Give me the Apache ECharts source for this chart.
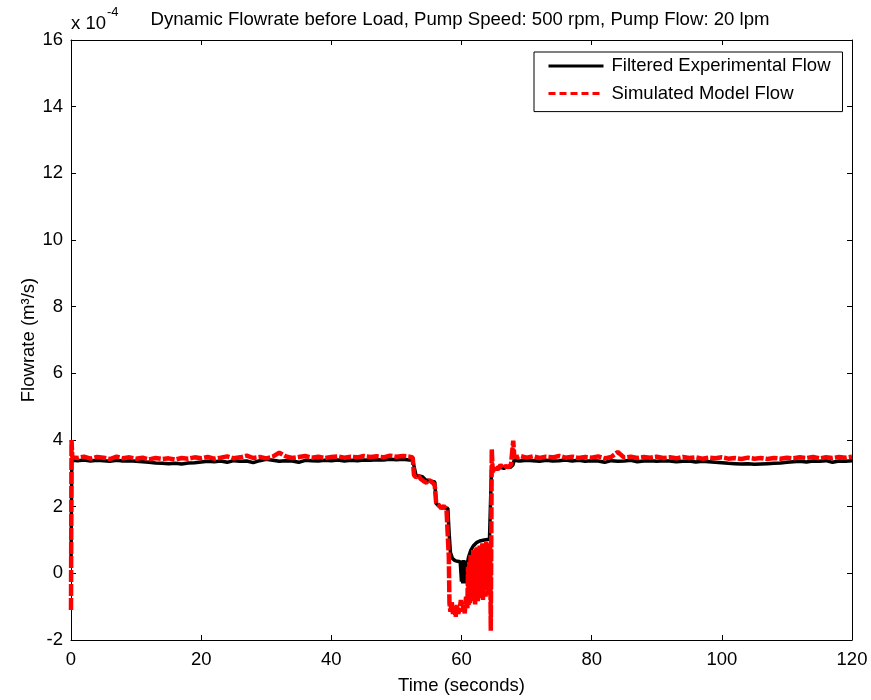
<!DOCTYPE html>
<html>
<head>
<meta charset="utf-8">
<title>Dynamic Flowrate before Load</title>
<script src="https://cdn.jsdelivr.net/npm/echarts@6/dist/echarts.min.js"></script>
<style>
  html, body { margin: 0; padding: 0; background: #fff; }
  #chart { width: 871px; height: 700px; }
</style>
</head>
<body>
<div id="chart"></div>
<script>
// Flow values are in units of 1e-4 m^3/s (the axis carries the "x 10^-4" multiplier).

// Steady running before the load event, sampled once per second
const earlyTime = [1, 2, 3, 4, 5, 6, 7, 8, 9, 10, 11, 12, 13, 14, 15, 16, 17, 18, 19, 20,
  21, 22, 23, 24, 25, 26, 27, 28, 29, 30, 31, 32, 33, 34, 35, 36, 37, 38, 39, 40,
  41, 42, 43, 44, 45, 46, 47, 48, 49, 50, 51, 52];
const expEarly = [3.38, 3.40, 3.37, 3.39, 3.38, 3.36, 3.39, 3.37, 3.38, 3.36, 3.35, 3.33, 3.31, 3.30, 3.29, 3.30, 3.28, 3.31, 3.32, 3.34,
  3.36, 3.35, 3.37, 3.33, 3.38, 3.36, 3.37, 3.32, 3.38, 3.42, 3.39, 3.36, 3.38, 3.37, 3.33, 3.39, 3.38, 3.37, 3.39, 3.38,
  3.40, 3.37, 3.39, 3.38, 3.40, 3.39, 3.41, 3.40, 3.42, 3.41, 3.42, 3.40];
const simEarly = [3.46, 3.50, 3.44, 3.49, 3.47, 3.43, 3.50, 3.45, 3.48, 3.44, 3.47, 3.42, 3.46, 3.43, 3.45, 3.41, 3.46, 3.44, 3.48, 3.45,
  3.49, 3.44, 3.47, 3.51, 3.45, 3.48, 3.53, 3.46, 3.49, 3.45, 3.50, 3.62, 3.51, 3.46, 3.49, 3.52, 3.47, 3.50, 3.46, 3.49,
  3.51, 3.47, 3.50, 3.48, 3.52, 3.49, 3.51, 3.48, 3.53, 3.50, 3.52, 3.50];

// Steady running after the load event
const lateTime = [69, 70, 71, 72, 73, 74, 75, 76, 77, 78, 79, 80, 81, 82, 83, 84, 85, 86, 87, 88,
  89, 90, 91, 92, 93, 94, 95, 96, 97, 98, 99, 100, 101, 102, 103, 104, 105, 106, 107, 108,
  109, 110, 111, 112, 113, 114, 115, 116, 117, 118, 119, 120];
const expLate = [3.37, 3.39, 3.38, 3.36, 3.39, 3.37, 3.38, 3.40, 3.37, 3.39, 3.36, 3.38, 3.37, 3.33, 3.38, 3.36, 3.37, 3.39, 3.35, 3.37,
  3.38, 3.36, 3.38, 3.37, 3.35, 3.36, 3.37, 3.34, 3.36, 3.35, 3.33, 3.32, 3.30, 3.29, 3.28, 3.29, 3.27, 3.28, 3.29, 3.30,
  3.31, 3.33, 3.35, 3.36, 3.34, 3.37, 3.36, 3.38, 3.33, 3.37, 3.36, 3.38];
const simLate = [3.52, 3.47, 3.51, 3.46, 3.50, 3.48, 3.52, 3.47, 3.50, 3.46, 3.49, 3.47, 3.51, 3.45, 3.49, 3.64, 3.47, 3.50, 3.46, 3.49,
  3.47, 3.50, 3.46, 3.48, 3.45, 3.49, 3.46, 3.48, 3.44, 3.47, 3.45, 3.48, 3.44, 3.46, 3.43, 3.47, 3.44, 3.46, 3.43, 3.46,
  3.44, 3.47, 3.45, 3.48, 3.46, 3.49, 3.45, 3.48, 3.46, 3.49, 3.47, 3.50];

// Start-up transient at t = 0
const expStartTime = [0, 0.12];
const expStart = [0.20, 3.40];
const simStartTime = [0, 0.08, 0.2];
const simStart = [-1.10, 4.00, 3.48];

// Load event: filtered experimental flow
const expDipTime = [52.5, 52.8, 53.0, 53.5, 54.0, 54.5, 55.0, 55.5, 55.9, 56.1, 56.5, 57.0, 57.5, 57.9,
  58.1, 58.3, 58.6, 59.0, 59.4, 59.8, 59.9, 60.0, 60.1, 60.2, 60.3, 60.4, 60.5, 60.6, 60.7, 60.8, 60.9,
  61.1, 61.4, 61.8, 62.3, 62.8, 63.5, 64.3, 64.5, 64.6, 65.0, 65.5, 66.0, 66.5, 67.0, 67.5, 67.9, 68.1, 68.5];
const expDip = [3.40, 3.35, 2.95, 2.92, 2.90, 2.80, 2.78, 2.76, 2.74, 2.10, 2.02, 1.98, 1.96, 1.95,
  1.20, 0.62, 0.45, 0.38, 0.36, 0.35, 0.40, -0.25, 0.38, -0.30, 0.40, -0.28, 0.35, -0.30, 0.38, -0.20, 0.30,
  0.50, 0.68, 0.82, 0.92, 0.97, 1.00, 1.02, 1.05, 3.10, 3.15, 3.12, 3.18, 3.15, 3.20, 3.18, 3.25, 3.40, 3.38];

// Load event: simulated model flow
const simDipTime = [52.5, 52.7, 53.0, 53.4, 53.8, 54.2, 54.6, 55.0, 55.3, 55.7, 55.9, 56.1, 56.5, 56.9, 57.3, 57.7, 57.95,
  58.05, 58.15, 58.3, 58.5, 58.7, 58.9, 59.1, 59.3, 59.5, 59.7, 59.9, 60.1, 60.3, 60.5, 60.7, 60.9,
  61.0, 61.1, 61.2, 61.3, 61.4, 61.5, 61.6, 61.7, 61.8, 61.9, 62.0, 62.1, 62.2, 62.3, 62.4, 62.5, 62.6, 62.7,
  62.8, 62.9, 63.0, 63.1, 63.2, 63.3, 63.4, 63.5, 63.6, 63.7, 63.8, 63.9, 64.0, 64.1, 64.2, 64.3, 64.4,
  64.5, 64.65, 64.8, 65.2, 65.6, 66.0, 66.4, 66.8, 67.2, 67.6, 67.85, 67.95, 68.1, 68.5];
const simDip = [3.48, 2.95, 2.88, 2.92, 2.82, 2.76, 2.72, 2.80, 2.74, 2.70, 2.62, 2.12, 2.05, 1.95, 2.02, 1.90, 1.85,
  0.50, -0.90, -1.15, -0.85, -1.25, -1.05, -1.30, -0.95, -1.20, -1.10, -0.80, -1.15, -0.95, -1.20, -0.70, -1.05,
  0.20, -0.95, 0.35, -0.90, 0.55, -0.85, 0.45, -0.80, 0.70, -0.75, 0.60, -0.95, 0.75, -0.70, 0.80, -0.85, 0.65, -0.60,
  0.85, -0.75, 0.80, -0.55, 0.90, -0.80, 0.85, -0.50, 0.90, -0.70, 0.95, -0.45, 0.85, -0.65, 0.90, -0.40, 0.80,
  -1.72, 3.72, 3.05, 3.20, 3.12, 3.25, 3.15, 3.22, 3.18, 3.26, 3.30, 3.98, 3.52, 3.48];

// Axis tick settings
const xTicks = { min: 0, max: 120, interval: 20 };
const yTicks = { min: -2, max: 16, interval: 2 };

const titleText = 'Dynamic Flowrate before Load, Pump Speed: 500 rpm, Pump Flow: 20 lpm';
const seriesNames = ['Filtered Experimental Flow', 'Simulated Model Flow'];

const FONT = "'Liberation Sans', Arial, Helvetica, sans-serif";
const FS = 18.5;

function zip(times, values) {
  return times.map((t, i) => [t, values[i]]);
}

const expData = zip(expStartTime.concat(earlyTime, expDipTime, lateTime),
                    expStart.concat(expEarly, expDip, expLate));
const simData = zip(simStartTime.concat(earlyTime, simDipTime, lateTime),
                    simStart.concat(simEarly, simDip, simLate));

const boxAxisLine = { show: true, onZero: false, lineStyle: { color: '#000', width: 1 } };
const boxTick = { show: true, inside: true, length: 5, lineStyle: { color: '#000', width: 1 } };
const hidden = 'rgba(0,0,0,0)';

const chart = echarts.init(document.getElementById('chart'), null, { renderer: 'canvas' });

chart.setOption({
  backgroundColor: '#fff',
  animation: false,
  textStyle: { fontFamily: FONT },
  title: {
    text: titleText,
    left: 460,
    textAlign: 'center',
    top: 10,
    padding: 0,
    textStyle: { fontFamily: FONT, fontSize: 18.6, fontWeight: 'normal', color: '#000' }
  },
  graphic: [
    { type: 'text', x: 71, y: 24, style: { text: 'x 10', fontFamily: FONT, fontSize: FS, fill: '#000', verticalAlign: 'middle', align: 'left' } },
    { type: 'text', x: 107, y: 12, style: { text: '-4', fontFamily: FONT, fontSize: 13, fill: '#000', verticalAlign: 'middle', align: 'left' } }
  ],
  legend: {
    orient: 'vertical',
    left: 534,
    top: 52,
    data: [
      { name: seriesNames[0], lineStyle: { width: 3, type: 'solid' } },
      { name: seriesNames[1], lineStyle: { width: 3, type: [7, 4] } }
    ],
    itemWidth: 55,
    itemHeight: 14,
    itemGap: 7.6,
    padding: [4, 12, 8, 13],
    borderColor: '#000',
    borderWidth: 1,
    backgroundColor: '#fff',
    borderRadius: 0,
    selectedMode: false,
    itemStyle: { color: hidden, borderColor: hidden, borderWidth: 0, opacity: 0 },
    textStyle: { fontFamily: FONT, fontSize: FS, color: '#000', lineHeight: 20, padding: [0, 0, 0, 3] }
  },
  grid: { left: 71, right: 19, top: 40, bottom: 57, containLabel: false },
  xAxis: [
    {
      type: 'value', position: 'bottom',
      min: xTicks.min, max: xTicks.max, interval: xTicks.interval,
      name: 'Time (seconds)', nameLocation: 'middle', nameGap: 36, nameMoveOverlap: false,
      nameTextStyle: { fontFamily: FONT, fontSize: FS, color: '#000' },
      axisLine: boxAxisLine, axisTick: boxTick,
      axisLabel: { color: '#000', fontFamily: FONT, fontSize: FS, margin: 10 },
      splitLine: { show: false }
    },
    {
      type: 'value', position: 'top',
      min: xTicks.min, max: xTicks.max, interval: xTicks.interval,
      axisLine: boxAxisLine, axisTick: boxTick,
      axisLabel: { show: false }, splitLine: { show: false }
    }
  ],
  yAxis: [
    {
      type: 'value', position: 'left',
      min: yTicks.min, max: yTicks.max, interval: yTicks.interval,
      name: 'Flowrate (m³/s)', nameLocation: 'middle', nameGap: 33, nameMoveOverlap: false,
      nameTextStyle: { fontFamily: FONT, fontSize: FS, color: '#000' },
      axisLine: boxAxisLine, axisTick: boxTick,
      axisLabel: { color: '#000', fontFamily: FONT, fontSize: FS, margin: 8 },
      splitLine: { show: false }
    },
    {
      type: 'value', position: 'right',
      min: yTicks.min, max: yTicks.max, interval: yTicks.interval,
      axisLine: boxAxisLine, axisTick: boxTick,
      axisLabel: { show: false }, splitLine: { show: false }
    }
  ],
  series: [
    {
      name: seriesNames[0],
      type: 'line',
      data: expData,
      showSymbol: false,
      symbol: 'none',
      lineStyle: { color: '#000', width: 3.5 },
      itemStyle: { color: '#000' },
      z: 2
    },
    {
      name: seriesNames[1],
      type: 'line',
      data: simData,
      showSymbol: false,
      symbol: 'none',
      lineStyle: { color: '#ff0000', width: 4.5, type: [12, 2] },
      itemStyle: { color: '#ff0000' },
      z: 3
    }
  ]
});
</script>
</body>
</html>
